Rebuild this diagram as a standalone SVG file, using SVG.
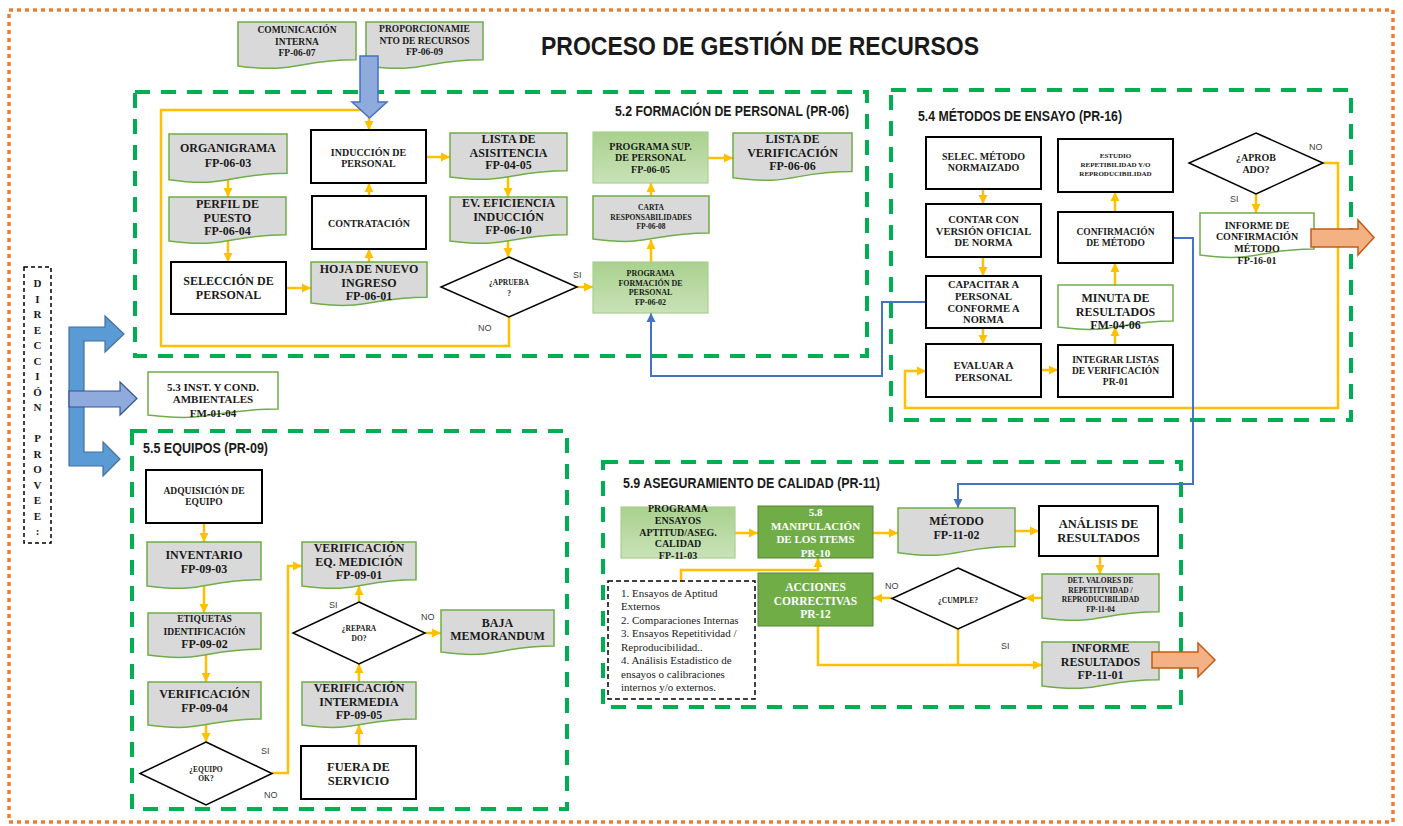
<svg xmlns="http://www.w3.org/2000/svg" width="1403" height="826" viewBox="0 0 1403 826">
<defs>
<style>
.doc{fill:#D9D9D9;stroke:#70AD47;stroke-width:1.5}
.docw{fill:#FFFFFF;stroke:#70AD47;stroke-width:1.5}
.box{fill:#FFFFFF;stroke:#000000;stroke-width:2}
.gbox{fill:url(#gg);stroke:#A9D18E;stroke-width:1.2}
.dg{fill:#70AD47;stroke:#548235;stroke-width:1}
.dia{fill:#FFFFFF;stroke:#000000;stroke-width:1.5}
.sec{fill:none;stroke:#00B050;stroke-width:4;stroke-dasharray:15 11}
.y{fill:none;stroke:#FFC000;stroke-width:2.5;marker-end:url(#ay)}
.yl{fill:none;stroke:#FFC000;stroke-width:2.5}
.b{fill:none;stroke:#4472C4;stroke-width:2;marker-end:url(#ab)}
.t{font-family:"Liberation Serif","Times New Roman",serif;font-weight:bold;fill:#1a1a1a;text-anchor:middle}
.tw{font-family:"Liberation Serif","Times New Roman",serif;font-weight:bold;fill:#FFFFFF;text-anchor:middle}
.tr{font-family:"Liberation Serif","Times New Roman",serif;font-size:11px;fill:#1a1a1a}
.lab{font-family:"Liberation Sans",Arial,sans-serif;font-size:9px;fill:#404040}
.h{font-family:"Liberation Sans",Arial,sans-serif;font-weight:bold;fill:#1a1a1a}
</style>
<linearGradient id="gg" x1="0" y1="0" x2="0" y2="1">
<stop offset="0" stop-color="#A9D18E"/>
<stop offset="1" stop-color="#C9E2B8"/>
</linearGradient>
<marker id="ay" markerUnits="userSpaceOnUse" markerWidth="10" markerHeight="10" refX="9" refY="5" orient="auto">
<path d="M0,0.5 L9,5 L0,9.5 Z" fill="#FFC000"/>
</marker>
<marker id="ab" markerUnits="userSpaceOnUse" markerWidth="10" markerHeight="10" refX="9" refY="5" orient="auto">
<path d="M0,0.5 L9,5 L0,9.5 Z" fill="#4472C4"/>
</marker>
</defs>

<rect x="9" y="10" width="1384" height="812" fill="none" stroke="#ED7D31" stroke-width="3.5" stroke-dasharray="4 4"/>
<text class="h" x="541" y="55" font-size="26" textLength="438" lengthAdjust="spacingAndGlyphs">PROCESO DE GESTIÓN DE RECURSOS</text>

<g id="sections">
<rect class="sec" x="135" y="92" width="732" height="264"/>
<text class="h" x="615" y="116" font-size="14" textLength="234" lengthAdjust="spacingAndGlyphs">5.2 FORMACIÓN DE PERSONAL (PR-06)</text>
<rect class="sec" x="891" y="90" width="460" height="330"/>
<text class="h" x="918" y="121" font-size="14" textLength="204" lengthAdjust="spacingAndGlyphs">5.4 MÉTODOS DE ENSAYO (PR-16)</text>
<rect class="sec" x="132" y="431" width="435" height="378"/>
<text class="h" x="143" y="453" font-size="14" textLength="125" lengthAdjust="spacingAndGlyphs">5.5 EQUIPOS (PR-09)</text>
<rect class="sec" x="603" y="462" width="578" height="245"/>
<text class="h" x="623" y="488" font-size="14" textLength="257" lengthAdjust="spacingAndGlyphs">5.9 ASEGURAMIENTO DE CALIDAD  (PR-11)</text>
</g>

<g id="connectors">
<path class="y" d="M228,180 V197"/>
<path class="y" d="M228,241 V262"/>
<path class="y" d="M286,288 H311"/>
<path class="y" d="M369,262 V249"/>
<path class="y" d="M369,196 V183"/>
<path class="y" d="M426,157 H450"/>
<path class="y" d="M508,177 V197"/>
<path class="y" d="M508,241 V257"/>
<path class="y" d="M577,287 H593"/>
<path class="y" d="M651,262 V240"/>
<path class="y" d="M651,196 V183"/>
<path class="y" d="M708,158 H733"/>
<path class="y" d="M509,317 V346 H161 V110 H369 V130"/>
<path class="y" d="M983,189 V204"/>
<path class="y" d="M983,257 V276"/>
<path class="y" d="M983,328 V344"/>
<path class="y" d="M1041,370 H1058"/>
<path class="y" d="M1115,345 V327"/>
<path class="y" d="M1115,285 V263"/>
<path class="y" d="M1115,212 V192"/>
<path class="y" d="M1256,194 V213"/>
<path class="y" d="M1323,163 H1338 V408 H905 V371 H926"/>
<path class="y" d="M204,523 V542"/>
<path class="y" d="M204,586 V613"/>
<path class="y" d="M206,655 V682"/>
<path class="y" d="M206,725 V742"/>
<path class="y" d="M272,773 H288 V566 H302"/>
<path class="y" d="M359,746 V725"/>
<path class="y" d="M359,682 V664"/>
<path class="y" d="M359,602 V586"/>
<path class="y" d="M425,633 H441"/>
<path class="y" d="M735,533 H758"/>
<path class="y" d="M873,533 H898"/>
<path class="y" d="M1015,531 H1039"/>
<path class="y" d="M1100,556 V574"/>
<path class="y" d="M1042,598 H1025"/>
<path class="y" d="M892,598 H873"/>
<path class="y" d="M958,629 V665 H1042"/>
<path class="yl" d="M818,626 V665 H958"/>
<path class="y" d="M681,581 V570 H818 V558"/>
<path class="b" d="M926,302 H882 V376 H651 V313"/>
<path class="b" d="M1173,238 H1193 V484 H958 V508"/>
<text class="lab" x="573" y="278">SI</text>
<text class="lab" x="478" y="331">NO</text>
<text class="lab" x="1309" y="150">NO</text>
<text class="lab" x="1230" y="202">SI</text>
<text class="lab" x="261" y="754">SI</text>
<text class="lab" x="264" y="798">NO</text>
<text class="lab" x="329" y="608">SI</text>
<text class="lab" x="421" y="620">NO</text>
<text class="lab" x="885" y="589">NO</text>
<text class="lab" x="1001" y="649">SI</text>
</g>

<g id="n-comunicacion">
<path class="doc" d="M238,22 H356 V59.7 C297,59.7 297,74 238,65.9 Z"/>
<text class="t" font-size="9.5"><tspan x="297" y="33">COMUNICACIÓN</tspan><tspan x="297" y="45">INTERNA</tspan><tspan x="297" y="56">FP-06-07</tspan></text>
</g>
<g id="n-proporcionamiento">
<path class="doc" d="M366,22 H483 V59.7 C424.5,59.7 424.5,74 366,65.9 Z"/>
<text class="t" font-size="9.5"><tspan x="424.5" y="32">PROPORCIONAMIE</tspan><tspan x="424.5" y="44">NTO DE  RECURSOS</tspan><tspan x="424.5" y="55">FP-06-09</tspan></text>
</g>
<g id="n-arrow-top">
<polygon points="360,56 378,56 378,102 387,102 369.5,118 352,102 360,102" fill="#8FAADC" stroke="#4472C4" stroke-width="1.5"/>
</g>

<g id="n-organigrama">
<path class="doc" d="M169,134 H287 V173.3 C228,173.3 228,188.2 169,179.8 Z"/>
<text class="t" font-size="12"><tspan x="228" y="152">ORGANIGRAMA</tspan><tspan x="228" y="167">FP-06-03</tspan></text>
</g>
<g id="n-perfil">
<path class="doc" d="M169,197 H286 V234.7 C227.5,234.7 227.5,249 169,240.9 Z"/>
<text class="t" font-size="12"><tspan x="227.5" y="208">PERFIL DE</tspan><tspan x="227.5" y="222">PUESTO</tspan><tspan x="227.5" y="235">FP-06-04</tspan></text>
</g>
<g id="n-seleccion">
<rect class="box" x="171" y="262" width="115" height="52"/>
<text class="t" font-size="12"><tspan x="228.5" y="285">SELECCIÓN DE</tspan><tspan x="228.5" y="299">PERSONAL</tspan></text>
</g>
<g id="n-hoja">
<path class="doc" d="M311,262 H427 V297.3 C369,297.3 369,310.7 311,303.1 Z"/>
<text class="t" font-size="12"><tspan x="369" y="273">HOJA DE NUEVO</tspan><tspan x="369" y="287">INGRESO</tspan><tspan x="369" y="300">FP-06-01</tspan></text>
</g>
<g id="n-contratacion">
<rect class="box" x="312" y="196" width="114" height="53"/>
<text class="t" font-size="10" x="369" y="226.5">CONTRATACIÓN</text>
</g>
<g id="n-induccion">
<rect class="box" x="311" y="130" width="115" height="53"/>
<text class="t" font-size="10"><tspan x="368.5" y="155.5">INDUCCIÓN  DE</tspan><tspan x="368.5" y="166.5">PERSONAL</tspan></text>
</g>
<g id="n-lista-asistencia">
<path class="doc" d="M450,133 H567 V170.7 C508.5,170.7 508.5,185 450,176.9 Z"/>
<text class="t" font-size="12"><tspan x="508.5" y="143">LISTA DE</tspan><tspan x="508.5" y="157">ASISITENCIA</tspan><tspan x="508.5" y="169">FP-04-05</tspan></text>
</g>
<g id="n-ev-eficiencia">
<path class="doc" d="M450,197 H567 V234.7 C508.5,234.7 508.5,249 450,240.9 Z"/>
<text class="t" font-size="12"><tspan x="508.5" y="207">EV. EFICIENCIA</tspan><tspan x="508.5" y="221">INDUCCIÓN</tspan><tspan x="508.5" y="234">FP-06-10</tspan></text>
</g>
<g id="n-aprueba">
<polygon class="dia" points="509,257 577,287 509,317 441,287"/>
<text class="t" font-size="7.5"><tspan x="509" y="284.5">¿APRUEBA</tspan><tspan x="509" y="295.5">?</tspan></text>
</g>
<g id="n-prog-formacion">
<rect class="gbox" x="593" y="262" width="115" height="51"/>
<text class="t" font-size="8"><tspan x="650.5" y="275.7">PROGRAMA</tspan><tspan x="650.5" y="285.7">FORMACIÓN  DE</tspan><tspan x="650.5" y="294.7">PERSONAL</tspan><tspan x="650.5" y="304.7">FP-06-02</tspan></text>
</g>
<g id="n-carta">
<path class="doc" d="M593,196 H709 V232.9 C651,232.9 651,246.9 593,239 Z"/>
<text class="t" font-size="7.5"><tspan x="651" y="209.5">CARTA</tspan><tspan x="651" y="219.5">RESPONSABILIDADES</tspan><tspan x="651" y="228.5">FP-06-08</tspan></text>
</g>
<g id="n-prog-sup">
<rect class="gbox" x="593" y="132" width="115" height="51"/>
<text class="t" font-size="10"><tspan x="650.5" y="150.4">PROGRAMA SUP.</tspan><tspan x="650.5" y="161.4">DE  PERSONAL</tspan><tspan x="650.5" y="173.4">FP-06-05</tspan></text>
</g>
<g id="n-lista-verif">
<path class="doc" d="M733,133 H852 V171.5 C792.5,171.5 792.5,186.1 733,177.8 Z"/>
<text class="t" font-size="12"><tspan x="792.5" y="143">LISTA DE</tspan><tspan x="792.5" y="157">VERIFICACIÓN</tspan><tspan x="792.5" y="170">FP-06-06</tspan></text>
</g>

<g id="n-selec-metodo">
<rect class="box" x="926" y="137" width="115" height="52"/>
<text class="t" font-size="10"><tspan x="983.5" y="160.4">SELEC. MÉTODO</tspan><tspan x="983.5" y="171.4">NORMAIZADO</tspan></text>
</g>
<g id="n-contar">
<rect class="box" x="926" y="204" width="115" height="53"/>
<text class="t" font-size="10.5"><tspan x="983.5" y="222.6">CONTAR CON</tspan><tspan x="983.5" y="234.6">VERSIÓN OFICIAL</tspan><tspan x="983.5" y="245.6">DE  NORMA</tspan></text>
</g>
<g id="n-capacitar">
<rect class="box" x="926" y="276" width="115" height="52"/>
<text class="t" font-size="10.5"><tspan x="983.5" y="287.6">CAPACITAR  A</tspan><tspan x="983.5" y="299.6">PERSONAL</tspan><tspan x="983.5" y="311.6">CONFORME  A</tspan><tspan x="983.5" y="322.6">NORMA</tspan></text>
</g>
<g id="n-evaluar">
<rect class="box" x="926" y="344" width="115" height="53"/>
<text class="t" font-size="10.5"><tspan x="983.5" y="368.6">EVALUAR  A</tspan><tspan x="983.5" y="380.6">PERSONAL</tspan></text>
</g>
<g id="n-estudio">
<rect class="box" x="1058" y="139" width="115" height="53"/>
<text class="t" font-size="7"><tspan x="1115.5" y="158.4">ESTUDIO</tspan><tspan x="1115.5" y="167.4">REPETIBILIDAD  Y/O</tspan><tspan x="1115.5" y="176.4">REPRODUCIBILIDAD</tspan></text>
</g>
<g id="n-confirmacion">
<rect class="box" x="1058" y="212" width="115" height="51"/>
<text class="t" font-size="9.5"><tspan x="1115.5" y="235.2">CONFIRMACIÓN</tspan><tspan x="1115.5" y="246.2">DE  MÉTODO</tspan></text>
</g>
<g id="n-minuta">
<path class="docw" d="M1058,285 H1173 V321.1 C1115.5,321.1 1115.5,334.8 1058,327 Z"/>
<text class="t" font-size="12"><tspan x="1115.5" y="302">MINUTA DE</tspan><tspan x="1115.5" y="316">RESULTADOS</tspan><tspan x="1115.5" y="329">FM-04-06</tspan></text>
</g>
<g id="n-integrar">
<rect class="box" x="1058" y="345" width="115" height="52"/>
<text class="t" font-size="9.5"><tspan x="1115.5" y="363.2">INTEGRAR  LISTAS</tspan><tspan x="1115.5" y="374.2">DE  VERIFICACIÓN</tspan><tspan x="1115.5" y="385.2">PR-01</tspan></text>
</g>
<g id="n-aprobado">
<polygon class="dia" points="1256,133 1323,163 1256,194 1189,163"/>
<text class="t" font-size="10"><tspan x="1256" y="161.4">¿APROB</tspan><tspan x="1256" y="173.4">ADO?</tspan></text>
</g>
<g id="n-informe-conf">
<path class="docw" d="M1200,213 H1314 V249.1 C1257,249.1 1257,262.8 1200,255 Z"/>
<text class="t" font-size="10"><tspan x="1257" y="229.4">INFORME  DE</tspan><tspan x="1257" y="240.4">CONFIRMACIÓN</tspan><tspan x="1257" y="252.4">MÉTODO</tspan><tspan x="1257" y="264.4">FP-16-01</tspan></text>
</g>
<g id="n-arrow-out1">
<polygon points="1311,229 1358,229 1358,220 1374,237.5 1358,255 1358,247 1311,247" fill="#F4B183" stroke="#C55A11" stroke-width="1.5"/>
</g>

<g id="n-direccion">
<rect x="24" y="267" width="27" height="276" fill="none" stroke="#000" stroke-width="1.5" stroke-dasharray="4 3"/>
<text class="t" font-size="11"><tspan x="37.5" y="287">D</tspan><tspan x="37.5" y="302.5">I</tspan><tspan x="37.5" y="318">R</tspan><tspan x="37.5" y="333.5">E</tspan><tspan x="37.5" y="349">C</tspan><tspan x="37.5" y="364.5">C</tspan><tspan x="37.5" y="380">I</tspan><tspan x="37.5" y="395.5">Ó</tspan><tspan x="37.5" y="411">N</tspan><tspan x="37.5" y="442">P</tspan><tspan x="37.5" y="457.5">R</tspan><tspan x="37.5" y="473">O</tspan><tspan x="37.5" y="488.5">V</tspan><tspan x="37.5" y="504">E</tspan><tspan x="37.5" y="519.5">E</tspan><tspan x="37.5" y="535">:</tspan></text>
</g>
<g id="n-bracket">
<polygon points="69,327 105,327 105,316 124,334 105,352 105,341 84,341 84,452 103,452 103,442 120,459 103,476 103,466 69,466" fill="#5B9BD5" stroke="#41719C" stroke-width="1.2"/>
<polygon points="69,391 120,391 120,382 137,398.5 120,415 120,407 69,407" fill="#8FAADC" stroke="#2F5597" stroke-width="1.2"/>
</g>
<g id="n-inst">
<path class="docw" d="M148,372 H278 V408.9 C213,408.9 213,422.9 148,415 Z"/>
<text class="t" font-size="11"><tspan x="213" y="390.7">5.3 INST. Y COND.</tspan><tspan x="213" y="402.7">AMBIENTALES</tspan><tspan x="213" y="416.7">FM-01-04</tspan></text>
</g>

<g id="n-adquisicion">
<rect class="box" x="146" y="470" width="116" height="53"/>
<text class="t" font-size="9.5"><tspan x="204" y="494.2">ADQUISICIÓN  DE</tspan><tspan x="204" y="505.2">EQUIPO</tspan></text>
</g>
<g id="n-inventario">
<path class="doc" d="M147,542 H261 V579.7 C204,579.7 204,594 147,585.9 Z"/>
<text class="t" font-size="12"><tspan x="204" y="559">INVENTARIO</tspan><tspan x="204" y="573">FP-09-03</tspan></text>
</g>
<g id="n-etiquetas">
<path class="doc" d="M148,613 H261 V649.1 C204.5,649.1 204.5,662.8 148,655 Z"/>
<text class="t" font-size="9.5"><tspan x="204.5" y="622.2">ETIQUETAS</tspan><tspan x="204.5" y="635.2">IDENTIFICACIÓN</tspan><tspan x="204.5" y="648" font-size="12">FP-09-02</tspan></text>
</g>
<g id="n-verificacion">
<path class="doc" d="M148,682 H261 V718.9 C204.5,718.9 204.5,732.9 148,725 Z"/>
<text class="t" font-size="12"><tspan x="204.5" y="698">VERIFICACIÓN</tspan><tspan x="204.5" y="712">FP-09-04</tspan></text>
</g>
<g id="n-equipo-ok">
<polygon class="dia" points="206,742 272,773.5 206,805 140,773.5"/>
<text class="t" font-size="7.5"><tspan x="206" y="771.5">¿EQUIPO</tspan><tspan x="206" y="780.5">OK?</tspan></text>
</g>
<g id="n-verif-eq">
<path class="doc" d="M302,542 H416 V579.7 C359,579.7 359,594 302,585.9 Z"/>
<text class="t" font-size="12"><tspan x="359" y="552">VERIFICACIÓN</tspan><tspan x="359" y="566">EQ. MEDICIÓN</tspan><tspan x="359" y="579">FP-09-01</tspan></text>
</g>
<g id="n-reparado">
<polygon class="dia" points="359,602 425,633 359,664 293,633"/>
<text class="t" font-size="7.5"><tspan x="359" y="630.5">¿REPARA</tspan><tspan x="359" y="640.5">DO?</tspan></text>
</g>
<g id="n-baja">
<path class="doc" d="M441,610 H554 V646.1 C497.5,646.1 497.5,659.8 441,652 Z"/>
<text class="t" font-size="12"><tspan x="497.5" y="627">BAJA</tspan><tspan x="497.5" y="640">MEMORANDUM</tspan></text>
</g>
<g id="n-verif-intermedia">
<path class="doc" d="M302,682 H416 V718.9 C359,718.9 359,732.9 302,725 Z"/>
<text class="t" font-size="12"><tspan x="359" y="692">VERIFICACIÓN</tspan><tspan x="359" y="706">INTERMEDIA</tspan><tspan x="359" y="719">FP-09-05</tspan></text>
</g>
<g id="n-fuera">
<rect class="box" x="301" y="746" width="115" height="53"/>
<text class="t" font-size="12.5"><tspan x="358.5" y="771.2">FUERA DE</tspan><tspan x="358.5" y="785.2">SERVICIO</tspan></text>
</g>

<g id="n-prog-ensayos">
<rect class="gbox" x="621" y="507" width="114" height="51"/>
<text class="t" font-size="10"><tspan x="678" y="512.4">PROGRAMA</tspan><tspan x="678" y="524.4">ENSAYOS</tspan><tspan x="678" y="536.4">APTITUD/ASEG.</tspan><tspan x="678" y="547.4">CALIDAD</tspan><tspan x="678" y="559.4">FP-11-03</tspan></text>
</g>
<g id="n-manipulacion">
<rect class="dg" x="758" y="506" width="115" height="52"/>
<text class="tw" font-size="11"><tspan x="815.5" y="515.7">5.8</tspan><tspan x="815.5" y="529.7">MANIPULACIÓN</tspan><tspan x="815.5" y="542.7">DE LOS ITEMS</tspan><tspan x="815.5" y="556.7">PR-10</tspan></text>
</g>
<g id="n-acciones">
<rect class="dg" x="758" y="573" width="115" height="53"/>
<text class="tw" font-size="11.5"><tspan x="815.5" y="590.9">ACCIONES</tspan><tspan x="815.5" y="604.9">CORRECTIVAS</tspan><tspan x="815.5" y="617.9">PR-12</tspan></text>
</g>
<g id="n-lista-ensayos">
<rect x="608" y="581" width="147" height="118" fill="#FFFFFF" stroke="#000" stroke-width="1.5" stroke-dasharray="5 3"/>
<text class="tr"><tspan x="621" y="596.5">1. Ensayos de Aptitud</tspan><tspan x="621" y="610">Externos</tspan><tspan x="621" y="623.5">2. Comparaciones Internas</tspan><tspan x="621" y="637">3. Ensayos Repetitividad  /</tspan><tspan x="621" y="650.5">Reproducibilidad..</tspan><tspan x="621" y="664">4. Análisis Estadistico de</tspan><tspan x="621" y="677.5">ensayos o calibraciones</tspan><tspan x="621" y="691">internos y/o externos.</tspan></text>
</g>
<g id="n-metodo">
<path class="doc" d="M898,508 H1015 V546.5 C956.5,546.5 956.5,561.1 898,552.8 Z"/>
<text class="t" font-size="12"><tspan x="956.5" y="525">MÉTODO</tspan><tspan x="956.5" y="539">FP-11-02</tspan></text>
</g>
<g id="n-analisis">
<rect class="box" x="1039" y="506" width="119" height="50"/>
<text class="t" font-size="12.5"><tspan x="1098.5" y="528.2">ANÁLISIS DE</tspan><tspan x="1098.5" y="542.2">RESULTADOS</tspan></text>
</g>
<g id="n-det-valores">
<path class="doc" d="M1042,574 H1159 V611.7 C1100.5,611.7 1100.5,626 1042,617.9 Z"/>
<text class="t" font-size="7.5"><tspan x="1100.5" y="582.5">DET. VALORES DE</tspan><tspan x="1100.5" y="592.5">REPETITIVIDAD  /</tspan><tspan x="1100.5" y="601.5">REPRODUCIBILIDAD</tspan><tspan x="1100.5" y="611.5">FP-11-04</tspan></text>
</g>
<g id="n-cumple">
<polygon class="dia" points="958,568 1025,598.5 958,629 892,598.5"/>
<text class="t" font-size="7.5" x="958" y="602.5">¿CUMPLE?</text>
</g>
<g id="n-informe-res">
<path class="doc" d="M1042,642 H1159 V679.7 C1100.5,679.7 1100.5,694 1042,685.9 Z"/>
<text class="t" font-size="12"><tspan x="1100.5" y="652">INFORME</tspan><tspan x="1100.5" y="666">RESULTADOS</tspan><tspan x="1100.5" y="679">FP-11-01</tspan></text>
</g>
<g id="n-arrow-out2">
<polygon points="1152,652 1198,652 1198,643 1215,660 1198,677 1198,668 1152,668" fill="#F4B183" stroke="#C55A11" stroke-width="1.5"/>
</g>
</svg>
